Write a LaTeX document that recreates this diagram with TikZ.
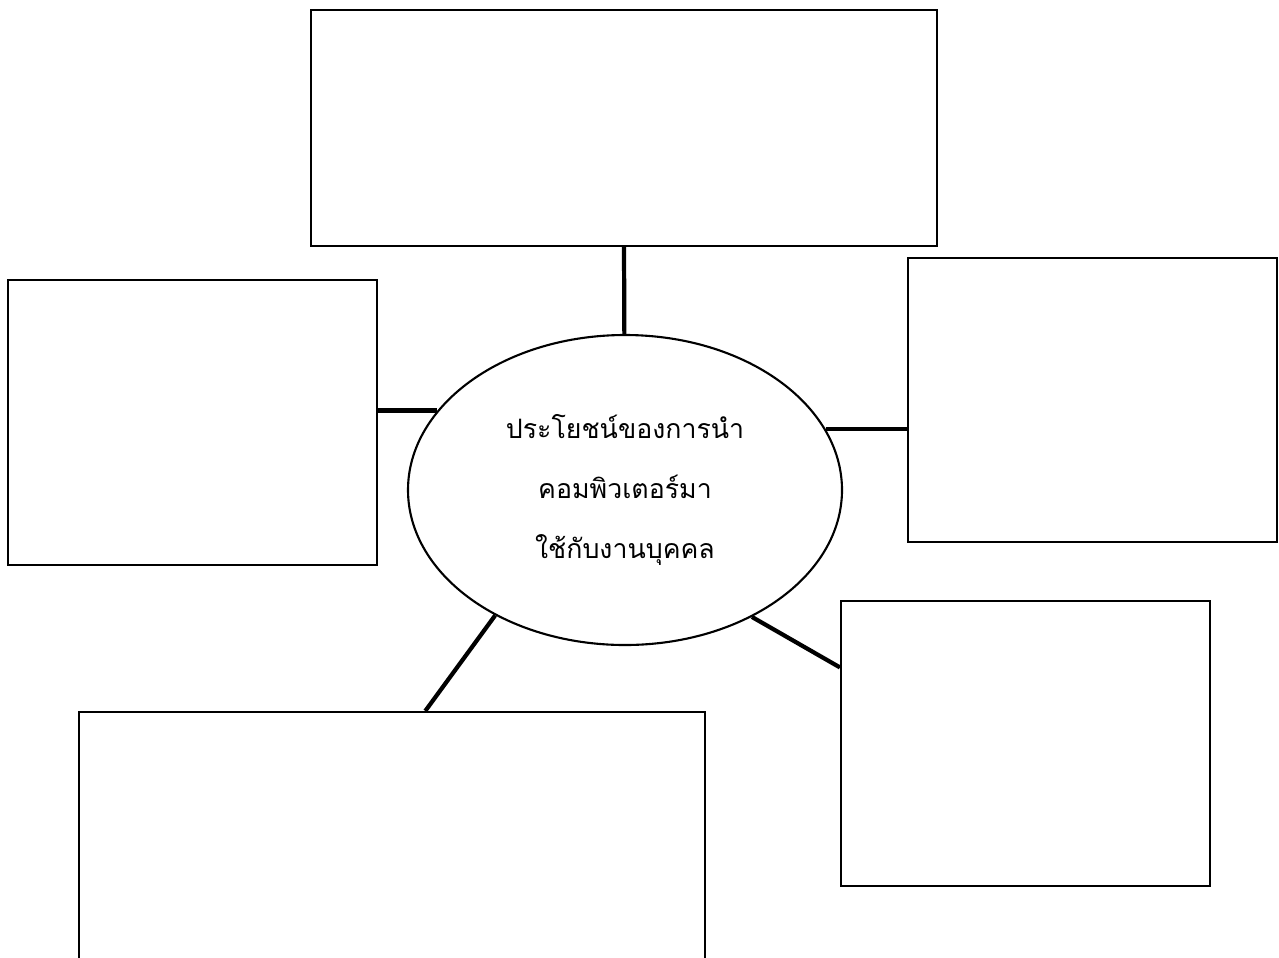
\documentclass[tikz,border=0pt]{standalone}
\usepackage{fontspec}
\newfontfamily\thaifont[Script=Thai]{Loma}
\usetikzlibrary{shapes.geometric}
\usetikzlibrary{positioning}
\usetikzlibrary{calc}

\tikzset{
  emptybox/.style={draw, rectangle, line width=0.6pt, inner sep=0pt},
  topic/.style={draw, ellipse, line width=0.6pt, inner sep=0pt,
    minimum width=4.34cm, minimum height=3.10cm, align=center,
    font=\thaifont\fontsize{7.6}{17}\selectfont},
  link/.style={line width=1.2pt}
}

\begin{document}
\begin{tikzpicture}

\useasboundingbox (0,0) rectangle (12.79,9.57);

%---------------------------------------
% Centre topic
%---------------------------------------
\node[topic] (idea) at (6.25,4.67)
  {ประโยชน์ของการนำ\\คอมพิวเตอร์มา\\ใช้กับงานบุคคล};

%---------------------------------------
% Empty answer boxes
%---------------------------------------
\node[emptybox, minimum width=6.26cm, minimum height=2.36cm] (top)    at (6.24,8.29)  {};
\node[emptybox, minimum width=3.69cm, minimum height=2.85cm] (left)   at (1.925,5.345) {};
\node[emptybox, minimum width=3.69cm, minimum height=2.84cm] (right)  at (10.925,5.57) {};
\node[emptybox, minimum width=3.69cm, minimum height=2.85cm] (bright) at (10.255,2.135) {};
\node[emptybox, minimum width=6.26cm, minimum height=2.85cm] (bleft)  at (3.92,1.025)  {};

%---------------------------------------
% Links to the topic
%---------------------------------------
\draw[link] (top.south) -- (idea);
\draw[link] (idea.157) -- (idea.157 -| left.east);
\draw[link] (idea.17) -- (idea.17 -| right.west);
\draw[link] (idea.-45) -- ($(bright.north west)!0.235!(bright.south west)$);
\draw[link] (idea.224) -- ($(bleft.north west)!0.553!(bleft.north east)$);

\end{tikzpicture}
\end{document}
